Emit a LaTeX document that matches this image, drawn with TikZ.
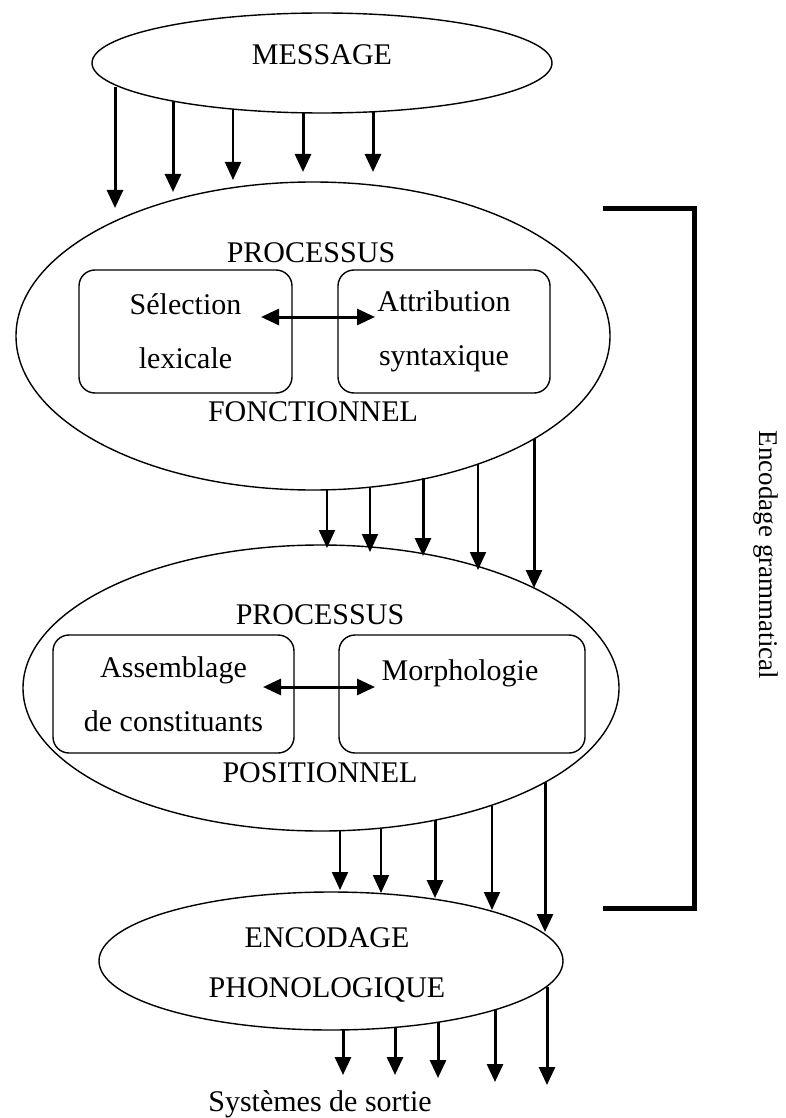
\documentclass[tikz,border=0pt]{standalone}
\usepackage{fontspec}
\setmainfont{Liberation Serif}
\usetikzlibrary{arrows.meta,shapes.geometric}
\begin{document}
\begin{tikzpicture}[x=1pt,y=-1pt,
  oval/.style={draw, ellipse, line width=1.4pt, inner sep=0pt},
  lbl/.style={font=\fontsize{30}{36}\selectfont, inner sep=0pt},
  box/.style={draw, rounded corners=16pt, line width=1.4pt, align=center,
              font=\fontsize{30}{54}\selectfont, inner sep=0pt},
  tip/.tip={Triangle[length=18pt,width=16pt]},
  thk/.style={line width=3pt, -tip},
  thn/.style={line width=2pt, -tip},
  dbl/.style={line width=3pt, tip-tip},
  brk/.style={line width=5pt, line cap=butt}]
\useasboundingbox (0,0) rectangle (786,1118);

% ellipses
\node[oval, minimum width=460pt, minimum height=100pt] (msg) at (322,63) {};
\node[lbl] (msgt) at (322,55) {MESSAGE};

\node[oval, minimum width=594pt, minimum height=308pt] (fonc) at (313,336) {};
\node[lbl] (fonc1) at (311,253) {PROCESSUS};
\node[lbl] (fonc2) at (313,412) {FONCTIONNEL};
\node[box, minimum width=213pt, minimum height=123pt] (sel) at (185.5,331.5) {Sélection\\lexicale};
\node[box, minimum width=212pt, minimum height=123pt] (attr) at (444,331.5) {Attribution\\syntaxique};
\coordinate (d1a) at (261,317);
\coordinate (d1b) at (375,317);
\draw[dbl] (d1a) -- (d1b);

\node[oval, minimum width=596pt, minimum height=286pt] (pos) at (321,688) {};
\node[lbl] (pos1) at (320,615) {PROCESSUS};
\node[lbl] (pos2) at (320,773) {POSITIONNEL};
\node[box, minimum width=241pt, minimum height=118pt] (ass) at (173.5,694) {Assemblage\\de constituants};
\node[box, minimum width=246pt, minimum height=118pt] (morph) at (462,694) {};
\node[lbl] (morpht) at (460,673) {Morphologie};
\coordinate (d2a) at (263,687);
\coordinate (d2b) at (375,687);
\draw[dbl] (d2a) -- (d2b);

\node[oval, minimum width=464pt, minimum height=138pt] (phon) at (331,961) {};
\node[lbl] (phon1) at (327,938) {ENCODAGE};
\node[lbl] (phon2) at (327,990) {PHONOLOGIQUE};

\node[lbl] (sortie) at (320,1104) {Systèmes de sortie};

% arrows
\foreach \x/\ya/\yb/\s in {115/87/208/thk, 173/101/192/thk, 233/109/180/thn, 303/113/172/thk, 373/112/172/thk,
  327/490/548/thn, 370/487/552/thn, 423/478/556/thk, 478/464/570/thn, 534/439/588/thk,
  340/831/890/thn, 381/828/893/thn, 435/820/898/thk, 492/806/910/thn, 545/782/932/thk,
  343/1030/1075/thk, 395/1027/1075/thk, 438/1022/1078/thk, 495/1010/1082/thk, 547/987/1085/thk}
  \draw[\s] (\x,\ya) -- (\x,\yb);

% bracket
\coordinate (b1) at (603,208);
\coordinate (b2) at (694,208);
\coordinate (b3) at (694,908);
\coordinate (b4) at (603,908);
\draw[brk] (b1) -- (b2) -- (b3) -- (b4);
\node[lbl, rotate=-90, font=\fontsize{27}{30}\selectfont] (enc) at (766,555) {Encodage grammatical};
\end{tikzpicture}
\end{document}
